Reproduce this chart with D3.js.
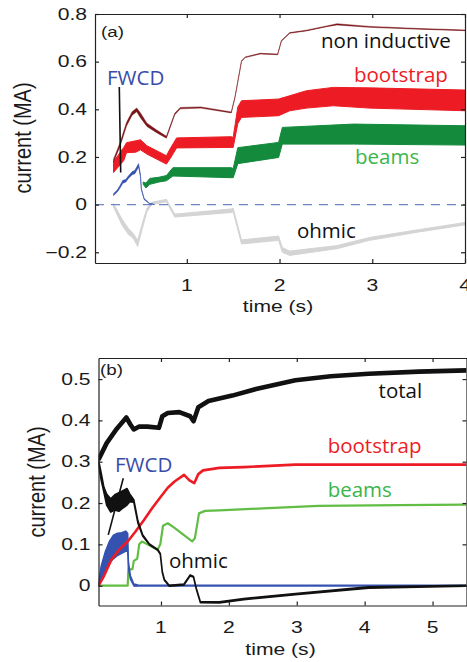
<!DOCTYPE html>
<html>
<head>
<meta charset="utf-8">
<script src="https://cdn.jsdelivr.net/npm/d3@7"></script>
<style>
body { margin: 0; background: #fff; }
svg { display: block; }
.tl { font-family: "Liberation Sans", Arial, sans-serif; fill: #1a1a1a; }
.note { font-family: "Open Sans", sans-serif; font-size: 20.5px; }
.ax path, .ax line { stroke: #222; stroke-width: 1.2; }
</style>
</head>
<body>
<svg id="chart" width="467" height="662"></svg>
<script>
// ---- panel (a): [time, low, high] bands ----
const nonInductiveA = [
  [0.21, 0.178, 0.19], [0.28, 0.245, 0.26], [0.35, 0.33, 0.345], [0.41, 0.375, 0.39],
  [0.46, 0.39, 0.405], [0.50, 0.365, 0.385], [0.57, 0.328, 0.342], [0.675, 0.302, 0.313],
  [0.78, 0.279, 0.287], [0.87, 0.377, 0.383], [0.93, 0.402, 0.408], [1.15, 0.405, 0.41],
  [1.48, 0.385, 0.389], [1.52, 0.45, 0.453], [1.59, 0.601, 0.604], [1.63, 0.617, 0.62],
  [1.79, 0.632, 0.635], [1.98, 0.629, 0.632], [2.02, 0.686, 0.689], [2.11, 0.719, 0.722],
  [2.29, 0.729, 0.732], [2.51, 0.747, 0.75], [2.62, 0.754, 0.759], [2.97, 0.744, 0.748],
  [3.51, 0.736, 0.739], [4.0, 0.73, 0.733]
];
const bootstrapA = [
  [0.21, 0.135, 0.18], [0.32, 0.185, 0.24], [0.35, 0.218, 0.26], [0.45, 0.22, 0.268],
  [0.50, 0.23, 0.272], [0.57, 0.212, 0.247], [0.78, 0.17, 0.205], [0.82, 0.193, 0.234],
  [0.89, 0.238, 0.28], [1.48, 0.24, 0.285], [1.50, 0.24, 0.282], [1.55, 0.34, 0.41],
  [1.59, 0.366, 0.436], [1.99, 0.373, 0.443], [2.11, 0.394, 0.457], [2.29, 0.405, 0.478],
  [2.58, 0.415, 0.492], [2.97, 0.405, 0.49], [4.0, 0.394, 0.481]
];
const beamsA = [
  [0.53, 0.085, 0.095], [0.56, 0.07, 0.09], [0.60, 0.085, 0.11], [0.70, 0.095, 0.115],
  [0.78, 0.10, 0.122], [0.85, 0.12, 0.155], [1.48, 0.113, 0.155], [1.50, 0.113, 0.151],
  [1.55, 0.172, 0.239], [1.99, 0.198, 0.261], [2.03, 0.254, 0.324], [2.80, 0.254, 0.338],
  [4.0, 0.25, 0.331]
];
const fwcdA = [
  [0.21, 0.038, 0.046], [0.25, 0.053, 0.061], [0.28, 0.07, 0.08], [0.31, 0.09, 0.102],
  [0.34, 0.094, 0.105], [0.37, 0.11, 0.12], [0.41, 0.125, 0.138], [0.44, 0.13, 0.144],
  [0.48, 0.158, 0.172], [0.50, 0.117, 0.126], [0.51, 0.062, 0.068], [0.54, 0.021, 0.026],
  [0.60, 0.003, 0.005], [0.65, 0.0, 0.002]
];
const ohmicA = [
  [0.21, -0.01, 0.005], [0.30, -0.085, -0.06], [0.37, -0.125, -0.10], [0.42, -0.14, -0.12],
  [0.47, -0.175, -0.15], [0.52, -0.10, -0.08], [0.57, -0.03, -0.015], [0.62, 0.0, 0.01],
  [0.78, 0.012, 0.022], [0.87, -0.052, -0.04], [1.48, -0.033, -0.018], [1.50, -0.03, -0.015],
  [1.59, -0.165, -0.148], [1.99, -0.15, -0.132], [2.03, -0.20, -0.18], [2.11, -0.213, -0.195],
  [2.62, -0.185, -0.172], [2.97, -0.15, -0.138], [3.5, -0.115, -0.105], [4.0, -0.085, -0.075]
];

// ---- panel (b): [time, value] lines and [time, low, high] bands ----
const totalB = [
  [0.08, 0.305], [0.2, 0.345], [0.35, 0.38], [0.49, 0.407], [0.55, 0.39], [0.6, 0.378],
  [0.68, 0.385], [0.8, 0.385], [0.97, 0.382], [1.02, 0.41], [1.1, 0.418], [1.27, 0.42],
  [1.43, 0.41], [1.48, 0.398], [1.55, 0.432], [1.7, 0.447], [2.05, 0.46], [2.4, 0.476],
  [2.98, 0.497], [3.5, 0.507], [4.06, 0.513], [4.8, 0.518], [5.5, 0.521]
];
const bootstrapB = [
  [0.08, 0.0], [0.15, 0.02], [0.27, 0.063], [0.4, 0.09], [0.51, 0.107], [0.62, 0.13],
  [0.75, 0.159], [0.88, 0.19], [1.0, 0.216], [1.1, 0.237], [1.2, 0.252], [1.34, 0.268],
  [1.42, 0.255], [1.49, 0.248], [1.55, 0.27], [1.62, 0.279], [1.86, 0.285], [2.22, 0.287],
  [2.98, 0.293], [4.0, 0.293], [5.5, 0.293]
];
const beamsB = [
  [0.08, 0], [0.51, 0], [0.52, 0.039], [0.58, 0.04], [0.6, 0.06], [0.65, 0.065],
  [0.68, 0.1], [0.72, 0.107], [0.8, 0.1], [0.95, 0.087], [0.99, 0.1], [1.03, 0.145],
  [1.1, 0.151], [1.2, 0.14], [1.3, 0.127], [1.46, 0.107], [1.5, 0.115], [1.56, 0.175],
  [1.65, 0.181], [1.86, 0.182], [2.5, 0.187], [3.32, 0.193], [4.5, 0.195], [5.5, 0.196]
];
const fwcdB = [
  [0.08, 0, 0.005], [0.12, 0.012, 0.048], [0.18, 0.035, 0.082], [0.24, 0.055, 0.107],
  [0.30, 0.065, 0.122], [0.36, 0.073, 0.127], [0.42, 0.078, 0.128], [0.48, 0.083, 0.132],
  [0.51, 0.083, 0.127], [0.52, 0.042, 0.058], [0.55, 0.016, 0.024], [0.60, 0, 0.004], [0.65, 0, 0.002]
];
const fwcdFlatB = [[0.6, 0], [5.5, 0]];
const ohmicB = [
  [0.08, 0.292, 0.305], [0.12, 0.255, 0.272], [0.16, 0.226, 0.238], [0.2, 0.195, 0.222],
  [0.26, 0.178, 0.21], [0.32, 0.183, 0.22], [0.38, 0.18, 0.225], [0.44, 0.188, 0.23],
  [0.5, 0.195, 0.235], [0.54, 0.203, 0.222], [0.6, 0.202, 0.208], [0.66, 0.152, 0.157],
  [0.73, 0.12, 0.123], [0.83, 0.099, 0.101], [0.95, 0.086, 0.088], [0.99, 0.076, 0.078],
  [1.02, 0.032, 0.034], [1.05, 0.013, 0.015], [1.12, -0.001, 0.001], [1.34, 0.002, 0.004],
  [1.43, 0.024, 0.026], [1.48, 0.02, 0.022], [1.52, -0.008, -0.006], [1.58, -0.041, -0.039],
  [1.86, -0.042, -0.039], [2.22, -0.034, -0.031], [2.98, -0.022, -0.019], [4.06, -0.006, -0.003],
  [5.5, -0.001, 0.001]
];

// ticks
const ticksAX = [1, 2, 3, 4];
const ticksAY = [-0.2, 0, 0.2, 0.4, 0.6, 0.8];
const ticksBX = [1, 2, 3, 4, 5];
const ticksBY = [0, 0.1, 0.2, 0.3, 0.4, 0.5];

// annotations [text, time, value]
const notesA = [
  ["(a)", 0.075, 0.703], ["FWCD", 0.139, 0.502], ["non inductive", 2.447, 0.657],
  ["bootstrap", 2.803, 0.515], ["beams", 2.814, 0.170], ["ohmic", 2.188, -0.140]
];
const notesB = [
  ["(b)", 0.102, 0.510], ["FWCD", 0.323, 0.275], ["ohmic", 1.117, 0.043],
  ["total", 4.205, 0.454], ["bootstrap", 3.455, 0.321], ["beams", 3.455, 0.215]
];
const pointerA = [[0.272, 0.494], [0.287, 0.135]];
const pointerB = [[0.445, 0.26], [0.224, 0.123]];

const noteColor = {
  "FWCD": "#3a4ca6", "bootstrap": "#ed1c24", "beams": "#3bb54a",
  "non inductive": "#111", "ohmic": "#111", "total": "#111", "(a)": "#222", "(b)": "#222"
};

const svg = d3.select("#chart");
const stretch = 1.32;
const fmt = d => d === 0 ? "0" : d3.format(".1f")(d);

const xA = d3.scaleLinear().domain([0.01, 4]).range([95, 465]);
const yA = d3.scaleLinear().domain([-0.245, 0.8]).range([263, 14]);
const xB = d3.scaleLinear().domain([0.08, 5.5]).range([98.5, 466.5]);
const yB = d3.scaleLinear().domain([-0.048, 0.551]).range([605.5, 358]);

function band(g, x, y, data, color, sw) {
  g.append("path")
    .datum(data)
    .attr("fill", color)
    .attr("stroke", color)
    .attr("stroke-width", sw)
    .attr("stroke-linejoin", "round")
    .attr("d", d3.area().x(d => x(d[0])).y0(d => y(d[1])).y1(d => y(d[2])));
}

function line(g, x, y, data, color, sw) {
  g.append("path")
    .datum(data)
    .attr("fill", "none")
    .attr("stroke", color)
    .attr("stroke-width", sw)
    .attr("stroke-linejoin", "round")
    .attr("d", d3.line().x(d => x(d[0])).y(d => y(d[1])));
}

function axes(x, y, tx, ty, ylabCx, ylabCy, xlabY) {
  let [x0, x1] = x.range(), [y0, y1] = y.range();
  let ax = svg.append("g").attr("class", "ax");
  ax.append("g").attr("transform", `translate(0,${y0})`)
    .call(d3.axisBottom(x).tickValues(tx).tickSize(-4).tickSizeOuter(0).tickFormat(""));
  ax.append("g").attr("transform", `translate(0,${y1})`)
    .call(d3.axisTop(x).tickValues(tx).tickSize(-4).tickSizeOuter(0).tickFormat(""));
  ax.append("g").attr("transform", `translate(${x0},0)`)
    .call(d3.axisLeft(y).tickValues(ty).tickSize(-4).tickSizeOuter(0).tickFormat(""));
  ax.append("g").attr("transform", `translate(${x1},0)`)
    .call(d3.axisRight(y).tickValues(ty).tickSize(-4).tickSizeOuter(0).tickFormat(""));

  svg.append("g").selectAll("text").data(ty).join("text")
    .attr("class", "tl").attr("font-size", 16)
    .attr("text-anchor", "end").attr("dy", "0.36em")
    .attr("transform", d => `translate(${x0 - 8},${y(d)}) scale(${stretch},1)`)
    .text(fmt);
  svg.append("g").selectAll("text").data(tx).join("text")
    .attr("class", "tl").attr("font-size", 16)
    .attr("text-anchor", "middle").attr("dy", "0.36em")
    .attr("transform", d => `translate(${x(d)},${y0 + 22}) scale(${stretch},1)`)
    .text(d => d);

  svg.append("text").attr("class", "tl").attr("font-size", 20)
    .attr("text-anchor", "middle")
    .attr("transform", `translate(${ylabCx},${ylabCy}) scale(1.15,1) rotate(-90)`)
    .text("current (MA)");
  svg.append("text").attr("class", "tl").attr("font-size", 16)
    .attr("text-anchor", "middle")
    .attr("transform", `translate(${(x0 + x1) / 2 - 2},${xlabY}) scale(${stretch},1)`)
    .text("time (s)");
}

function clip(id, x, y) {
  svg.append("clipPath").attr("id", id).append("rect")
    .attr("x", x.range()[0]).attr("y", y.range()[1])
    .attr("width", x.range()[1] - x.range()[0]).attr("height", y.range()[0] - y.range()[1]);
}

function notes(list, x, y, pointer) {
  svg.append("path").datum(pointer)
    .attr("fill", "none").attr("stroke", "#111").attr("stroke-width", 1.6)
    .attr("d", d3.line().x(d => x(d[0])).y(d => y(d[1])));
  svg.append("g").selectAll("text").data(list).join("text")
    .attr("class", d => d[0][0] === "(" ? "tl" : "note")
    .attr("font-size", d => d[0][0] === "(" ? 15 : null)
    .attr("transform", d => d[0][0] === "(" ? `translate(${x(d[1])},${y(d[2])}) scale(1.25,1)` : `translate(${x(d[1])},${y(d[2])})`)
    .attr("fill", d => noteColor[d[0]])
    .text(d => d[0]);
}

// ---- panel (a) ----
clip("clipA", xA, yA);
const gA = svg.append("g").attr("clip-path", "url(#clipA)");
band(gA, xA, yA, ohmicA, "#d4d4d4", 1);
gA.append("line")
  .attr("x1", xA.range()[0]).attr("x2", xA.range()[1])
  .attr("y1", yA(0)).attr("y2", yA(0))
  .attr("stroke", "#6f86c6").attr("stroke-width", 1.4).attr("stroke-dasharray", "9,7");
band(gA, xA, yA, fwcdA, "#3552b0", 0.6);
band(gA, xA, yA, beamsA, "#138a3c", 1);
band(gA, xA, yA, bootstrapA, "#ed1c24", 1);
band(gA, xA, yA, nonInductiveA, "#7a1418", 0.5);
axes(xA, yA, ticksAX, ticksAY, 31, 138, 311.7);
notes(notesA, xA, yA, pointerA);

// ---- panel (b) ----
clip("clipB", xB, yB);
const gB = svg.append("g").attr("clip-path", "url(#clipB)");
line(gB, xB, yB, beamsB, "#62bd45", 2.2);
line(gB, xB, yB, fwcdFlatB, "#3552b0", 2.4);
band(gB, xB, yB, fwcdB, "#3552b0", 1.5);
line(gB, xB, yB, bootstrapB, "#ed1c24", 2.6);
band(gB, xB, yB, ohmicB, "#111", 1.6);
line(gB, xB, yB, totalB, "#111", 4.6);
axes(xB, yB, ticksBX, ticksBY, 45, 482, 655);
notes(notesB, xB, yB, pointerB);
</script>
</body>
</html>
